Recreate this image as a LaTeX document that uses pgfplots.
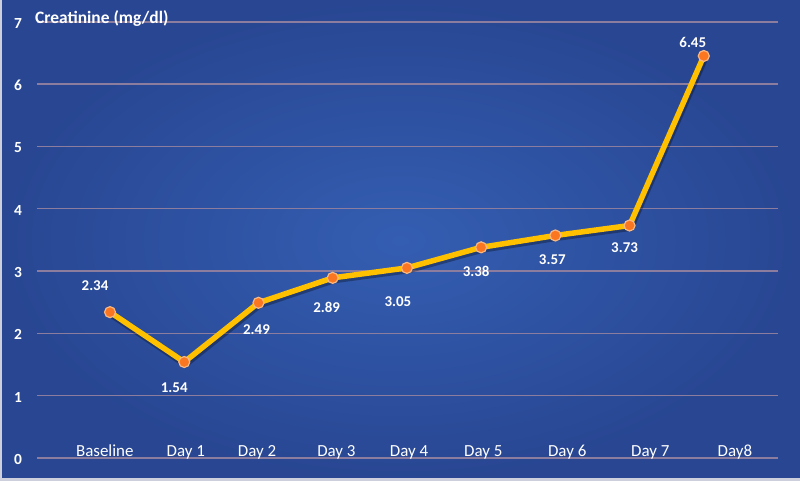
\documentclass[border=0pt]{standalone}
\usepackage{pgfplots}
\pgfplotsset{compat=1.18}
\usepackage{fontspec}
\setmainfont{Carlito}
\definecolor{bgin}{RGB}{52,94,178}
\definecolor{bgout}{RGB}{40,70,146}
\definecolor{gridc}{RGB}{140,124,158}
\definecolor{linec}{RGB}{255,192,0}
\definecolor{markc}{RGB}{250,118,32}
\definecolor{markedge}{RGB}{250,185,130}
\definecolor{edgec}{RGB}{205,208,220}
\tikzset{lbl/.style={font=\bfseries\fontsize{15}{18}\selectfont, text=white, inner sep=0pt, anchor=center}}
\begin{document}
\begin{tikzpicture}
\useasboundingbox (0,0) rectangle (800bp,481bp);
\shade[inner color=bgin, outer color=bgout] (0,0) rectangle (800bp,481bp);
\draw[line width=2bp, edgec] (1bp,0) -- (1bp,481bp);
\draw[line width=3bp, edgec] (0,1.5bp) -- (800bp,1.5bp);
\begin{axis}[
  at={(37bp,23bp)}, anchor=south west,
  scale only axis, width=741bp, height=436.3bp,
  xmin=-0.984, xmax=9.0, ymin=0, ymax=7,
  ytick={0,1,2,3,4,5,6,7},
  /pgf/number format/assume math mode=true,
  ymajorgrids, grid style={gridc, line width=1.6bp},
  axis line style={draw=none},
  major tick length=0pt,
  xtick={-0.07,1.02,1.98,3.05,4.03,5.03,6.16,7.28,8.42},
  xticklabels={Baseline,Day 1,Day 2,Day 3,Day 4,Day 5,Day 6,Day 7,Day8},
  xticklabel style={anchor=base, yshift=2bp, inner sep=0pt, font=\fontsize{17}{20}\selectfont, text=white},
  yticklabel style={anchor=center, inner sep=0pt, xshift=-19bp, yshift=-1.5bp, font=\bfseries\fontsize{15.5}{18}\selectfont, text=white},
  clip=false,
]
\addplot[black, opacity=0.3, line width=7bp, xshift=1bp, yshift=-2bp, forget plot] coordinates {
(0,2.34) (1,1.54) (2,2.49) (3,2.89) (4,3.05) (5,3.38) (6,3.57) (7,3.73) (8,6.45)};
\addplot[linec, line width=5.5bp, mark=*, mark size=5.5bp,
  mark options={fill=markc, draw=markedge, line width=1.2bp}] coordinates {
(0,2.34) (1,1.54) (2,2.49) (3,2.89) (4,3.05) (5,3.38) (6,3.57) (7,3.73) (8,6.45)};
\node[lbl, xshift=-15bp, yshift=27bp] at (axis cs:0,2.34) {2.34};
\node[lbl, xshift=-10bp, yshift=-26bp] at (axis cs:1,1.54) {1.54};
\node[lbl, xshift=-2bp, yshift=-27bp] at (axis cs:2,2.49) {2.49};
\node[lbl, xshift=-6bp, yshift=-30bp] at (axis cs:3,2.89) {2.89};
\node[lbl, xshift=-9bp, yshift=-34bp] at (axis cs:4,3.05) {3.05};
\node[lbl, xshift=-5bp, yshift=-24bp] at (axis cs:5,3.38) {3.38};
\node[lbl, xshift=-3bp, yshift=-24bp] at (axis cs:6,3.57) {3.57};
\node[lbl, xshift=-5bp, yshift=-22bp] at (axis cs:7,3.73) {3.73};
\node[lbl, xshift=-11bp, yshift=14bp] at (axis cs:8,6.45) {6.45};
\end{axis}
\node[anchor=base west, inner sep=0pt, font=\bfseries\fontsize{17.5}{21}\selectfont, text=white] at (35bp,457bp) {Creatinine (mg/dl)};
\end{tikzpicture}
\end{document}
